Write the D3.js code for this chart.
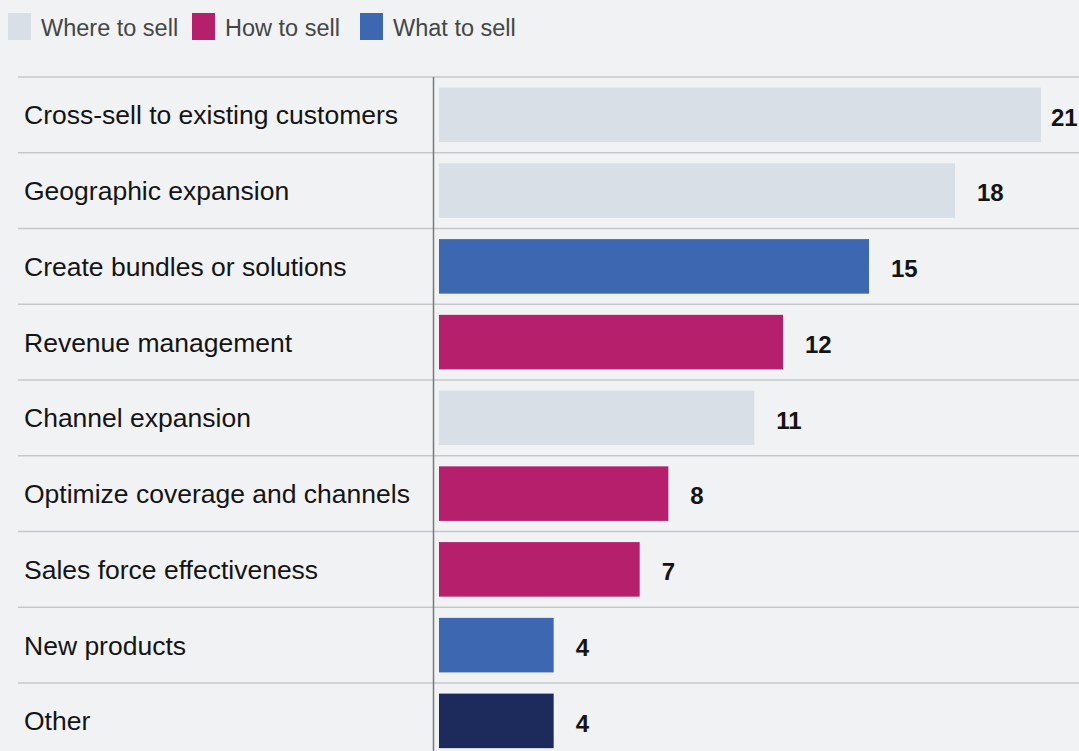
<!DOCTYPE html>
<html>
<head>
<meta charset="utf-8">
<script src="https://cdn.jsdelivr.net/npm/d3@7"></script>
<style>
  html, body { margin: 0; padding: 0; background: #f1f2f4; overflow: hidden; }
  svg { display: block; font-family: "Liberation Sans", Arial, Helvetica, sans-serif; }
</style>
</head>
<body>
<svg id="chart" width="1079" height="751"></svg>
<script>
// Growth levers, number of mentions
const categories = [
  "Cross-sell to existing customers",
  "Geographic expansion",
  "Create bundles or solutions",
  "Revenue management",
  "Channel expansion",
  "Optimize coverage and channels",
  "Sales force effectiveness",
  "New products",
  "Other"
];
const values = [21, 18, 15, 12, 11, 8, 7, 4, 4];
const groups = ["where", "where", "what", "how", "where", "how", "how", "what", "other"];

const legendKeys = ["where", "how", "what"];
const legendLabels = ["Where to sell", "How to sell", "What to sell"];

const colorScale = d3.scaleOrdinal()
  .domain(["where", "how", "what", "other"])
  .range(["#d8dfe6", "#b51f6b", "#3e67b1", "#1d2b5c"]);

const W = 1079, H = 751;
const svg = d3.select("#chart");

svg.append("rect").attr("width", W).attr("height", H).attr("fill", "#f1f2f4");

// Legend
const legendX = [8, 192, 360];
const legend = svg.append("g");
legendKeys.forEach((k, i) => {
  const g = legend.append("g").attr("transform", `translate(${legendX[i]},13)`);
  g.append("rect").attr("width", 23).attr("height", 27).attr("fill", colorScale(k));
  g.append("text")
    .attr("x", 33).attr("y", 22.5)
    .attr("font-size", 23.5)
    .attr("fill", "#454545")
    .text(legendLabels[i]);
});

// Scales
const rowTop = 77, rowStep = 75.75;
const y = d3.scaleBand()
  .domain(categories)
  .range([rowTop, rowTop + rowStep * categories.length])
  .paddingInner(0.28)
  .paddingOuter(0.14);

const x = d3.scaleLinear().domain([0, 21]).range([439, 1041]);

// Row separators
const rowLines = categories.map((c, i) => rowTop + i * y.step());
svg.append("g").selectAll("line")
  .data(rowLines)
  .join("line")
  .attr("x1", 18).attr("x2", W)
  .attr("y1", d => d).attr("y2", d => d)
  .attr("stroke", "#c6c7c9")
  .attr("stroke-width", 1.5);

// Baseline axis
svg.append("line")
  .attr("x1", 433.5).attr("x2", 433.5)
  .attr("y1", rowTop).attr("y2", H)
  .attr("stroke", "#7a7a7a")
  .attr("stroke-width", 1.5);

// Category labels
svg.append("g").selectAll("text")
  .data(categories)
  .join("text")
  .attr("x", 24)
  .attr("y", d => y(d) + y.bandwidth() / 2)
  .attr("dy", "0.36em")
  .attr("font-size", 26.5)
  .attr("fill", "#141414")
  .text(d => d);

// Bars
const data = categories.map((c, i) => ({ c, v: values[i], g: groups[i] }));
svg.append("g").selectAll("rect")
  .data(data)
  .join("rect")
  .attr("x", x(0))
  .attr("y", d => y(d.c))
  .attr("width", d => x(d.v) - x(0))
  .attr("height", y.bandwidth())
  .attr("fill", d => colorScale(d.g));

// Value labels, kept inside the frame
svg.append("g").selectAll("text")
  .data(data)
  .join("text")
  .attr("x", d => Math.min(x(d.v) + 22, W - 28))
  .attr("y", d => y(d.c) + y.bandwidth() / 2 + 2)
  .attr("dy", "0.36em")
  .attr("font-size", 24)
  .attr("font-weight", "bold")
  .attr("fill", "#141414")
  .text(d => d.v);
</script>
</body>
</html>
